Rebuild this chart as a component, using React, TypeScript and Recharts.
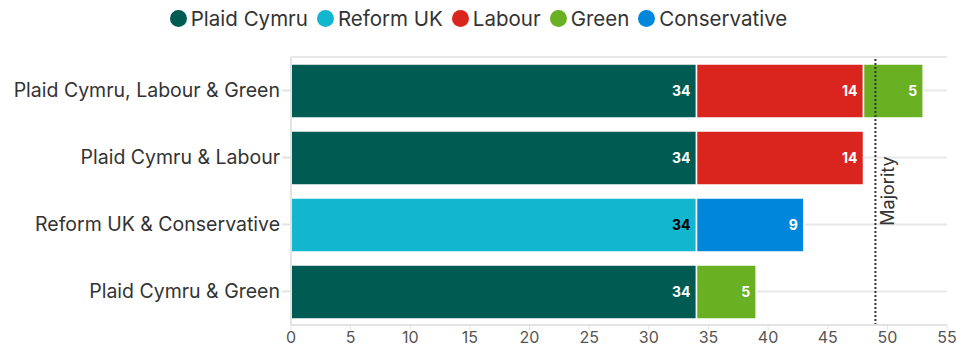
import { Bar, BarChart, CartesianGrid, LabelList, ReferenceLine, XAxis, YAxis } from "recharts";

const categories = [
  "Plaid Cymru, Labour & Green",
  "Plaid Cymru & Labour",
  "Reform UK & Conservative",
  "Plaid Cymru & Green",
];

const plaid = [34, 34, 0, 34];
const reform = [0, 0, 34, 0];
const labour = [14, 14, 0, 0];
const conservative = [0, 0, 9, 0];
const green = [5, 0, 0, 5];

const xTicks = [0, 5, 10, 15, 20, 25, 30, 35, 40, 45, 50, 55];
const majority = 49;

const parties = [
  { key: "plaid", name: "Plaid Cymru", color: "#005b52", text: "#ffffff" },
  { key: "reform", name: "Reform UK", color: "#12b6cf", text: "#000000" },
  { key: "labour", name: "Labour", color: "#da251e", text: "#ffffff" },
  { key: "conservative", name: "Conservative", color: "#0087dc", text: "#ffffff" },
  { key: "green", name: "Green", color: "#6ab023", text: "#ffffff" },
];

const legendOrder = ["plaid", "reform", "labour", "green", "conservative"];

const data = categories.map((c, i) => ({
  name: c,
  plaid: plaid[i] || null,
  reform: reform[i] || null,
  labour: labour[i] || null,
  conservative: conservative[i] || null,
  green: green[i] || null,
}));

const FONT = "Inter, 'Noto Sans', sans-serif";

const MajorityLabel = (props: any) => {
  const { viewBox } = props;
  const x = viewBox.x + 12;
  const y = viewBox.y + viewBox.height / 2;
  return (
    <text
      x={x}
      y={y}
      transform={`rotate(-90 ${x} ${y})`}
      textAnchor="middle"
      dominantBaseline="central"
      fontSize={18}
      fill="#333"
      fontFamily={FONT}
    >
      Majority
    </text>
  );
};

export default function App() {
  return (
    <div style={{ position: "absolute", left: 0, top: 0, width: 957, height: 348, background: "#fff", fontFamily: FONT }}>
      <div
        style={{
          position: "absolute",
          top: 0,
          left: 0,
          width: 957,
          height: 36,
          display: "flex",
          justifyContent: "center",
          alignItems: "center",
          gap: 9,
          fontSize: 20.5,
          color: "#333",
        }}
      >
        {legendOrder.map((k) => {
          const p = parties.find((x) => x.key === k)!;
          return (
            <div key={k} style={{ display: "flex", alignItems: "center" }}>
              <span
                style={{
                  display: "inline-block",
                  width: 17,
                  height: 17,
                  borderRadius: "50%",
                  background: p.color,
                  marginRight: 4,
                }}
              />
              {p.name}
            </div>
          );
        })}
      </div>
      <BarChart
        width={957}
        height={348}
        data={data}
        layout="vertical"
        margin={{ top: 57, right: 10, bottom: 0, left: 0 }}
        barSize={54}
      >
        <CartesianGrid vertical={false} stroke="#e8e8e8" strokeWidth={2} />
        <XAxis
          type="number"
          domain={[0, 55]}
          ticks={xTicks}
          height={23}
          axisLine={{ stroke: "#e3e3e3", strokeWidth: 2 }}
          tickLine={{ stroke: "#e3e3e3" }}
          tickSize={5}
          tick={{ fill: "#555", fontSize: 16, fontFamily: FONT }}
          interval={0}
        />
        <YAxis
          type="category"
          dataKey="name"
          width={291}
          axisLine={{ stroke: "#e3e3e3", strokeWidth: 2 }}
          tickLine={{ stroke: "#e3e3e3", strokeWidth: 2 }}
          tickSize={9}
          tick={{ fill: "#333", fontSize: 19.5, fontFamily: FONT }}
        />
        {parties.map((p) => (
          <Bar
            key={p.key}
            dataKey={p.key}
            name={p.name}
            stackId="a"
            fill={p.color}
            stroke="#ffffff"
            strokeWidth={1.5}
            isAnimationActive={false}
          >
            <LabelList
              dataKey={p.key}
              position="insideRight"
              offset={6}
              fill={p.text}
              fontSize={14}
              fontWeight={700}
              fontFamily={FONT}
            />
          </Bar>
        ))}
        <ReferenceLine
          x={majority}
          stroke="#333"
          strokeWidth={2}
          strokeDasharray="2 2"
          label={<MajorityLabel />}
        />
      </BarChart>
    </div>
  );
}
